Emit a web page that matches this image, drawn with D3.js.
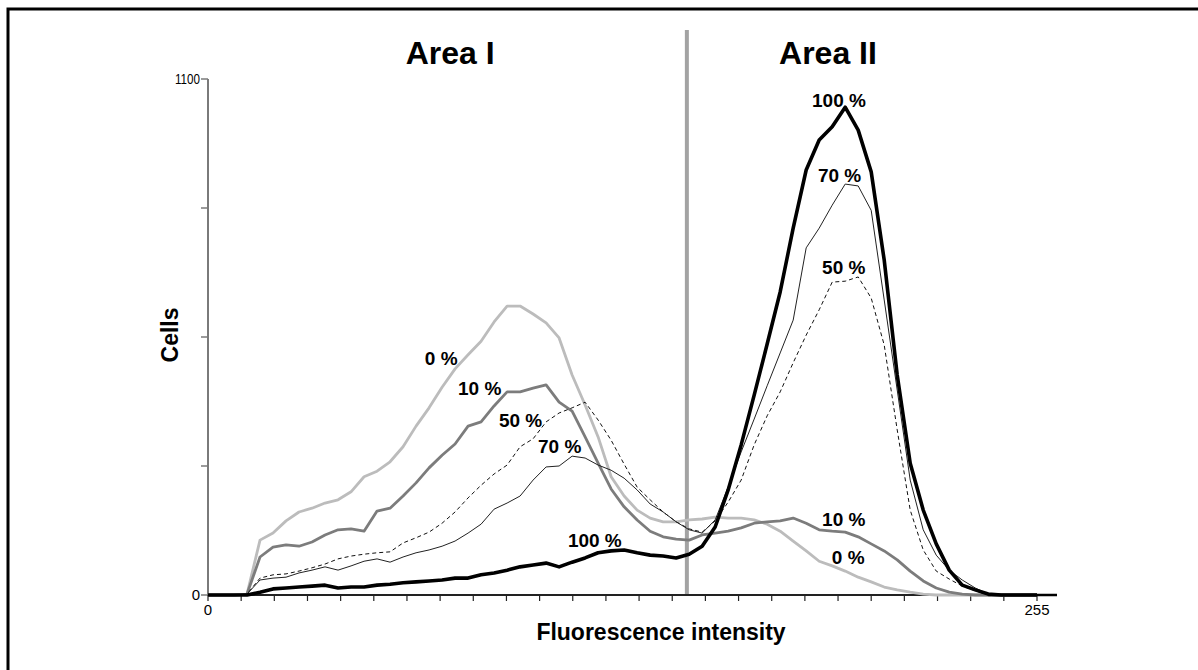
<!DOCTYPE html>
<html><head><meta charset="utf-8">
<script src="https://cdn.jsdelivr.net/npm/d3@7"></script>
<style>body{margin:0;background:#fff}svg{display:block}text{font-family:Arial,"Liberation Sans",Helvetica,sans-serif}</style>
</head><body><svg id="c" width="1198" height="670"></svg>
<script>
const channels = [0,8,12,16,20,24,28,32,36,40,44,48,52,56,60,64,68,72,76,80,84,88,92,96,100,104,108,112,116,120,124,128,132,136,140,144,148,152,156,160,164,168,172,176,180,184,188,192,196,200,204,208,212,216,220,224,228,232,236,240,244,248,252,255];
const s0   = [0,0,2,117,132,158,177,185,196,203,220,252,264,284,316,360,399,443,482,512,541,582,616,616,599,580,548,469,405,337,252,211,181,164,156,156,160,162,166,164,164,160,151,136,115,94,72,62,51,38,28,17,11,6,2,0,0,0,0,0,0,0,0,0];
const s10  = [0,0,2,81,102,107,104,113,128,139,141,136,179,185,211,239,271,298,322,360,369,403,433,433,441,448,411,392,337,281,226,188,160,136,124,119,117,128,132,136,143,153,156,158,164,153,139,136,134,124,109,94,75,51,30,15,6,2,0,0,0,0,0,0];
const s50  = [0,0,2,36,43,45,51,58,66,77,83,87,90,92,111,122,134,153,177,207,234,258,277,316,333,369,388,399,411,373,330,279,230,203,177,156,141,134,158,198,245,320,382,433,495,554,608,667,669,678,633,533,352,181,96,51,34,19,9,0,0,0,0,0];
const s70  = [0,0,2,32,36,38,47,53,60,53,62,72,77,70,81,90,96,104,115,132,151,183,196,211,245,273,275,296,292,277,266,249,224,194,177,156,139,132,160,230,305,375,446,516,586,740,782,831,876,872,820,629,437,245,139,85,53,32,15,2,0,0,0,0];
const s100 = [0,0,0,6,13,15,17,19,21,15,17,17,21,23,26,28,30,32,36,36,43,47,53,60,64,68,60,70,79,90,94,96,90,85,83,79,87,104,145,224,320,426,535,646,782,906,970,998,1040,991,902,714,469,281,181,109,53,21,11,2,0,0,0,0];
const seriesNames = ["0 %","10 %","50 %","70 %","100 %"];
const yTicks = [0,275,550,825,1100];
const yTickLabels = ["0","","","","1100"];
const xTickCount = 25;
const xTickLabels = [{v:0,t:"0"},{v:255,t:"255"}];
const areaTitles = [{v:74.5,t:"Area I"},{v:190.7,t:"Area II"}];
const dividerChannel = 147.3;
const curveLabels = [
  {t:"0 %",x:66.7,y:490},{t:"10 %",x:76.9,y:426},{t:"50 %",x:89.5,y:358},{t:"70 %",x:101.5,y:303},{t:"100 %",x:110.7,y:102},
  {t:"100 %",x:185.8,y:1040},{t:"70 %",x:187.6,y:880},{t:"50 %",x:188.9,y:684},{t:"10 %",x:188.9,y:147},{t:"0 %",x:191.9,y:66}
];

const svg = d3.select("#c");
const x = d3.scaleLinear().domain([0,255]).range([208,1037]);
const y = d3.scaleLinear().domain([0,1100]).range([595,79]);

// frame
svg.append("rect").attr("x",8).attr("y",9).attr("width",1250).attr("height",720)
  .attr("fill","none").attr("stroke","#000").attr("stroke-width",3);

// divider
svg.append("line").attr("x1",x(dividerChannel)).attr("x2",x(dividerChannel))
  .attr("y1",30).attr("y2",y(0)).attr("stroke","#a3a3a3").attr("stroke-width",4);

// y axis
const gy = svg.append("g");
gy.append("line").attr("x1",x(0)).attr("x2",x(0)).attr("y1",y(0)).attr("y2",y(1100)).attr("stroke","#7a7a7a").attr("stroke-width",2);
yTicks.forEach((v,i)=>{
  gy.append("line").attr("x1",x(0)-7).attr("x2",x(0)).attr("y1",y(v)).attr("y2",y(v)).attr("stroke","#7a7a7a").attr("stroke-width",1.5);
  if(yTickLabels[i]){
    const t = gy.append("text").attr("x",x(0)-8).attr("y",y(v)).attr("dy","0.36em").attr("text-anchor","end")
     .attr("font-size",15).text(yTickLabels[i]);
    if(yTickLabels[i].length>3) t.attr("textLength",25).attr("lengthAdjust","spacingAndGlyphs");
  }
});

// x axis
const gx = svg.append("g");
gx.append("line").attr("x1",x(0)).attr("x2",x(255)+20).attr("y1",y(0)).attr("y2",y(0)).attr("stroke","#222").attr("stroke-width",1.8);
d3.range(xTickCount+1).map(i=>i*255/xTickCount).forEach(v=>{
  gx.append("line").attr("x1",x(v)).attr("x2",x(v)).attr("y1",y(0)).attr("y2",y(0)+6).attr("stroke","#222").attr("stroke-width",1.2);
});
xTickLabels.forEach(d=>gx.append("text").attr("x",x(d.v)).attr("y",y(0)+20).attr("text-anchor","middle").attr("font-size",15).text(d.t));

// series
const styles = [
  {c:"#bcbcbc",w:2.8,d:null},
  {c:"#7c7c7c",w:2.8,d:null},
  {c:"#111",w:1,d:"4,3"},
  {c:"#222",w:1,d:null},
  {c:"#000",w:3.6,d:null}
];
const allSeries = [s0,s10,s50,s70,s100];
const line = d3.line().x((d,i)=>x(channels[i])).y(d=>y(d));
allSeries.forEach((s,k)=>{
  svg.append("path").datum(s).attr("d",line).attr("fill","none")
    .attr("stroke",styles[k].c).attr("stroke-width",styles[k].w)
    .attr("stroke-dasharray",styles[k].d).attr("stroke-linejoin","round");
});
// flat zero tail to axis end
svg.append("line").attr("x1",x(240)).attr("x2",x(255)+20).attr("y1",y(0)).attr("y2",y(0)).attr("stroke","#000").attr("stroke-width",2.5);

// curve labels
curveLabels.forEach(d=>svg.append("text").attr("x",x(d.x)).attr("y",y(d.y)).attr("font-size",19).attr("font-weight","bold").text(d.t));

// titles
areaTitles.forEach(d=>svg.append("text").attr("x",x(d.v)).attr("y",64).attr("text-anchor","middle").attr("font-size",32).attr("font-weight","bold").text(d.t));
svg.append("text").attr("x",661).attr("y",640).attr("text-anchor","middle").attr("font-size",23).attr("font-weight","bold").text("Fluorescence intensity");
svg.append("text").attr("transform","translate(178,335) rotate(-90)").attr("text-anchor","middle").attr("font-size",23).attr("font-weight","bold").text("Cells");
</script></body></html>
